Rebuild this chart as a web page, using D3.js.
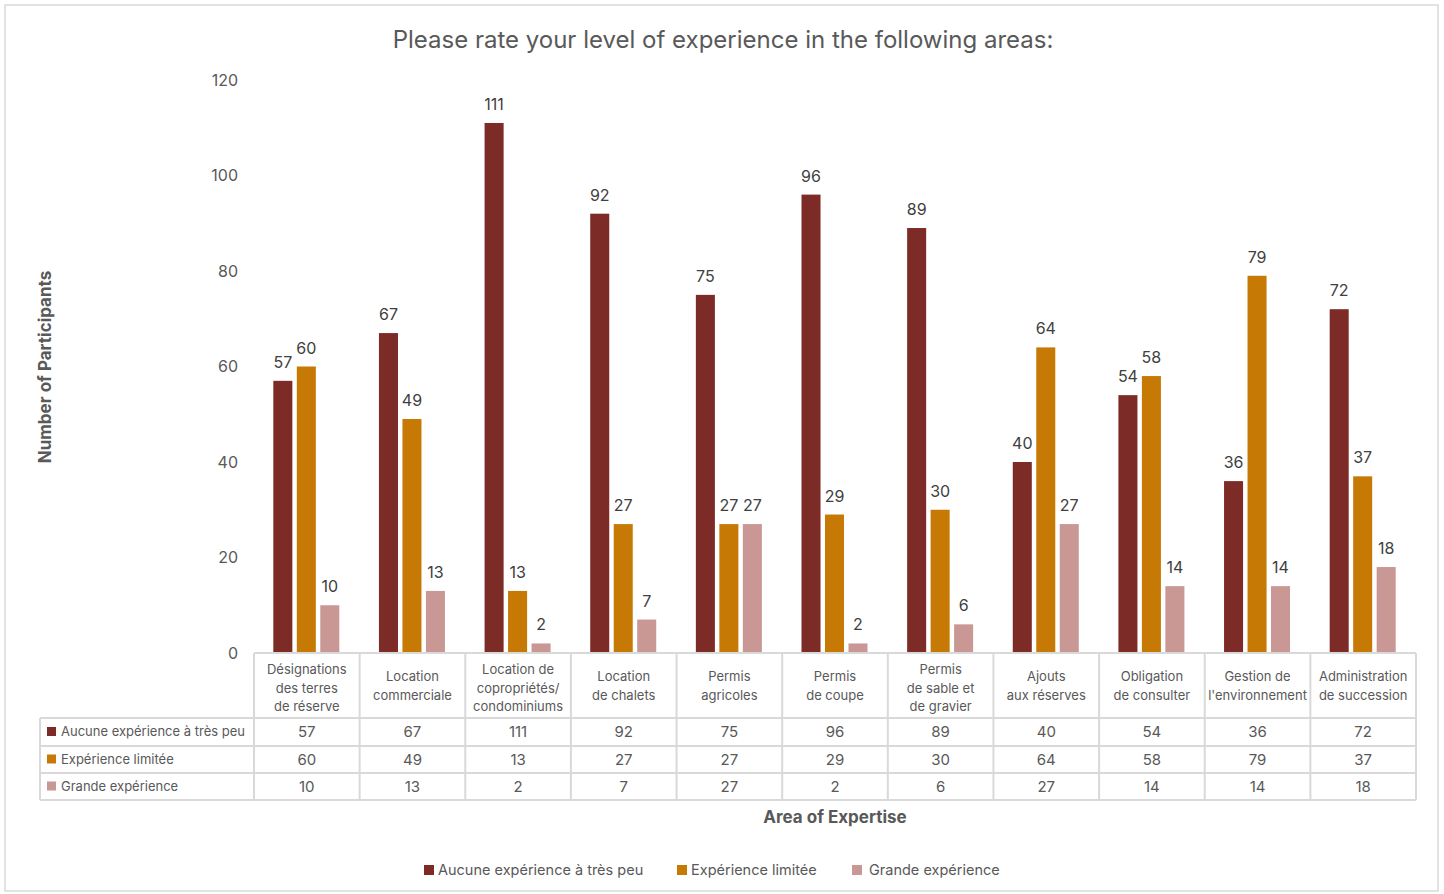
<!DOCTYPE html>
<html>
<head>
<meta charset="utf-8">
<script src="https://cdn.jsdelivr.net/npm/d3@7"></script>
<style>
	body { margin: 0; background: #fff; font-family: Inter, "Noto Sans", "Open Sans", sans-serif; }
	svg text { fill: #595959; }
</style>
</head>
<body>
<div id="chart"></div>
<script>
	"use strict";

	var categories = [
		["Désignations", "des terres", "de réserve"],
		["Location", "commerciale"],
		["Location de", "copropriétés/", "condominiums"],
		["Location", "de chalets"],
		["Permis", "agricoles"],
		["Permis", "de coupe"],
		["Permis", "de sable et", "de gravier"],
		["Ajouts", "aux réserves"],
		["Obligation", "de consulter"],
		["Gestion de", "l'environnement"],
		["Administration", "de succession"]
	];
	var seriesNames = ["Aucune expérience à très peu", "Expérience limitée", "Grande expérience"];
	var noneValues = [57, 67, 111, 92, 75, 96, 89, 40, 54, 36, 72];
	var limitedValues = [60, 49, 13, 27, 27, 29, 30, 64, 58, 79, 37];
	var greatValues = [10, 13, 2, 7, 27, 2, 6, 27, 14, 14, 18];
	var yTicks = [0, 20, 40, 60, 80, 100, 120];
	var colors = ["#7d2b27", "#c67a05", "#c99794"];

	var series = [noneValues, limitedValues, greatValues];

	var W = 1444, H = 894,
		plotLeft = 254, plotRight = 1416,
		plotTop = 80, plotBottom = 653,
		tableLeft = 40,
		groupWidth = 66,
		rowH = [65, 28, 27, 27];

	var svg = d3.select("#chart").append("svg")
		.attr("width", W)
		.attr("height", H);

	// outer frame
	svg.append("rect")
		.attr("x", 5).attr("y", 5)
		.attr("width", 1433).attr("height", 886)
		.attr("fill", "#fff")
		.attr("stroke", "#d9d9d9")
		.attr("stroke-width", 1.5);

	svg.append("text")
		.attr("x", 723).attr("y", 48)
		.attr("text-anchor", "middle")
		.style("font-size", "24px")
		.text("Please rate your level of experience in the following areas:");

	var x = d3.scaleBand()
		.domain(d3.range(categories.length))
		.range([plotLeft, plotRight]);
	var xInner = d3.scaleBand()
		.domain([0, 1, 2])
		.range([0, groupWidth])
		.paddingInner(0.19);
	var y = d3.scaleLinear()
		.domain([0, 120])
		.range([plotBottom, plotTop]);

	var innerOffset = (x.bandwidth() - groupWidth) / 2 - 0.5;

	// y axis labels (no line, no ticks)
	var yAxis = svg.append("g")
		.attr("transform", "translate(" + 238 + ",0)")
		.call(d3.axisLeft(y).tickValues(yTicks).tickSize(0).tickPadding(0));
	yAxis.select(".domain").remove();
	yAxis.selectAll("text")
		.style("font-size", "16px")
		.style("font-family", "Inter, 'Noto Sans', sans-serif")
		.attr("fill", "#595959");

	svg.append("text")
		.attr("transform", "translate(51,367) rotate(-90)")
		.attr("text-anchor", "middle")
		.style("font-size", "17px")
		.style("font-weight", "bold")
		.text("Number of Participants");

	// bars
	series.forEach(function(vals, s) {
		var g = svg.append("g");
		g.selectAll("rect")
			.data(vals)
			.enter().append("rect")
			.attr("x", function(d, i) { return x(i) + innerOffset + xInner(s); })
			.attr("width", xInner.bandwidth())
			.attr("y", function(d) { return y(d); })
			.attr("height", function(d) { return plotBottom - y(d); })
			.attr("fill", colors[s]);
		g.selectAll("text")
			.data(vals)
			.enter().append("text")
			.attr("x", function(d, i) { return x(i) + innerOffset + xInner(s) + xInner.bandwidth() / 2; })
			.attr("y", function(d) { return y(d) - 13; })
			.attr("text-anchor", "middle")
			.style("font-size", "16px")
			.style("fill", "#404040")
			.text(function(d) { return d; });
	});

	// data table
	var gridColor = "#d9d9d9";
	var rowY = [plotBottom];
	rowH.forEach(function(h) { rowY.push(rowY[rowY.length - 1] + h); });
	var table = svg.append("g");

	// horizontal lines
	table.append("line")
		.attr("x1", plotLeft).attr("x2", plotRight)
		.attr("y1", rowY[0]).attr("y2", rowY[0])
		.attr("stroke", gridColor).attr("stroke-width", 2);
	for (var r = 1; r < rowY.length; r++) {
		table.append("line")
			.attr("x1", tableLeft).attr("x2", plotRight)
			.attr("y1", rowY[r]).attr("y2", rowY[r])
			.attr("stroke", gridColor).attr("stroke-width", 2);
	}
	// vertical lines
	d3.range(categories.length + 1).forEach(function(i) {
		var xx = i < categories.length ? x(i) : plotRight;
		table.append("line")
			.attr("x1", xx).attr("x2", xx)
			.attr("y1", rowY[0]).attr("y2", rowY[4])
			.attr("stroke", gridColor).attr("stroke-width", 2);
	});
	table.append("line")
		.attr("x1", tableLeft).attr("x2", tableLeft)
		.attr("y1", rowY[1]).attr("y2", rowY[4])
		.attr("stroke", gridColor).attr("stroke-width", 2);

	// category labels
	categories.forEach(function(lines, i) {
		var cy = rowY[0] + rowH[0] / 2 + (lines.length === 3 ? 7 : 5);
		var lh = 18.5;
		var t = table.append("text")
			.attr("text-anchor", "middle")
			.style("font-size", "13px");
		lines.forEach(function(line, k) {
			t.append("tspan")
				.attr("x", x(i) + x.bandwidth() / 2)
				.attr("y", cy + (k - (lines.length - 1) / 2) * lh)
				.text(line);
		});
	});

	// series rows
	series.forEach(function(vals, s) {
		var cy = (rowY[s + 1] + rowY[s + 2]) / 2;
		table.append("rect")
			.attr("x", 47).attr("y", cy - 5)
			.attr("width", 9).attr("height", 9)
			.attr("fill", colors[s]);
		table.append("text")
			.attr("x", 61).attr("y", cy + 4)
			.style("font-size", "13px")
			.text(seriesNames[s]);
		table.selectAll(null)
			.data(vals)
			.enter().append("text")
			.attr("x", function(d, i) { return x(i) + x.bandwidth() / 2; })
			.attr("y", cy + 5)
			.attr("text-anchor", "middle")
			.style("font-size", "15px")
			.text(function(d) { return d; });
	});

	svg.append("text")
		.attr("x", (plotLeft + plotRight) / 2).attr("y", 823)
		.attr("text-anchor", "middle")
		.style("font-size", "17px")
		.style("font-weight", "bold")
		.text("Area of Expertise");

	// legend
	var legendX = [424, 677, 852];
	var legend = svg.append("g");
	seriesNames.forEach(function(name, s) {
		legend.append("rect")
			.attr("x", legendX[s]).attr("y", 865)
			.attr("width", 10).attr("height", 10)
			.attr("fill", colors[s]);
		legend.append("text")
			.attr("x", legendX[s] + (s === 2 ? 17 : 14)).attr("y", 875)
			.style("font-size", "14.5px")
			.text(name);
	});
</script>
</body>
</html>
